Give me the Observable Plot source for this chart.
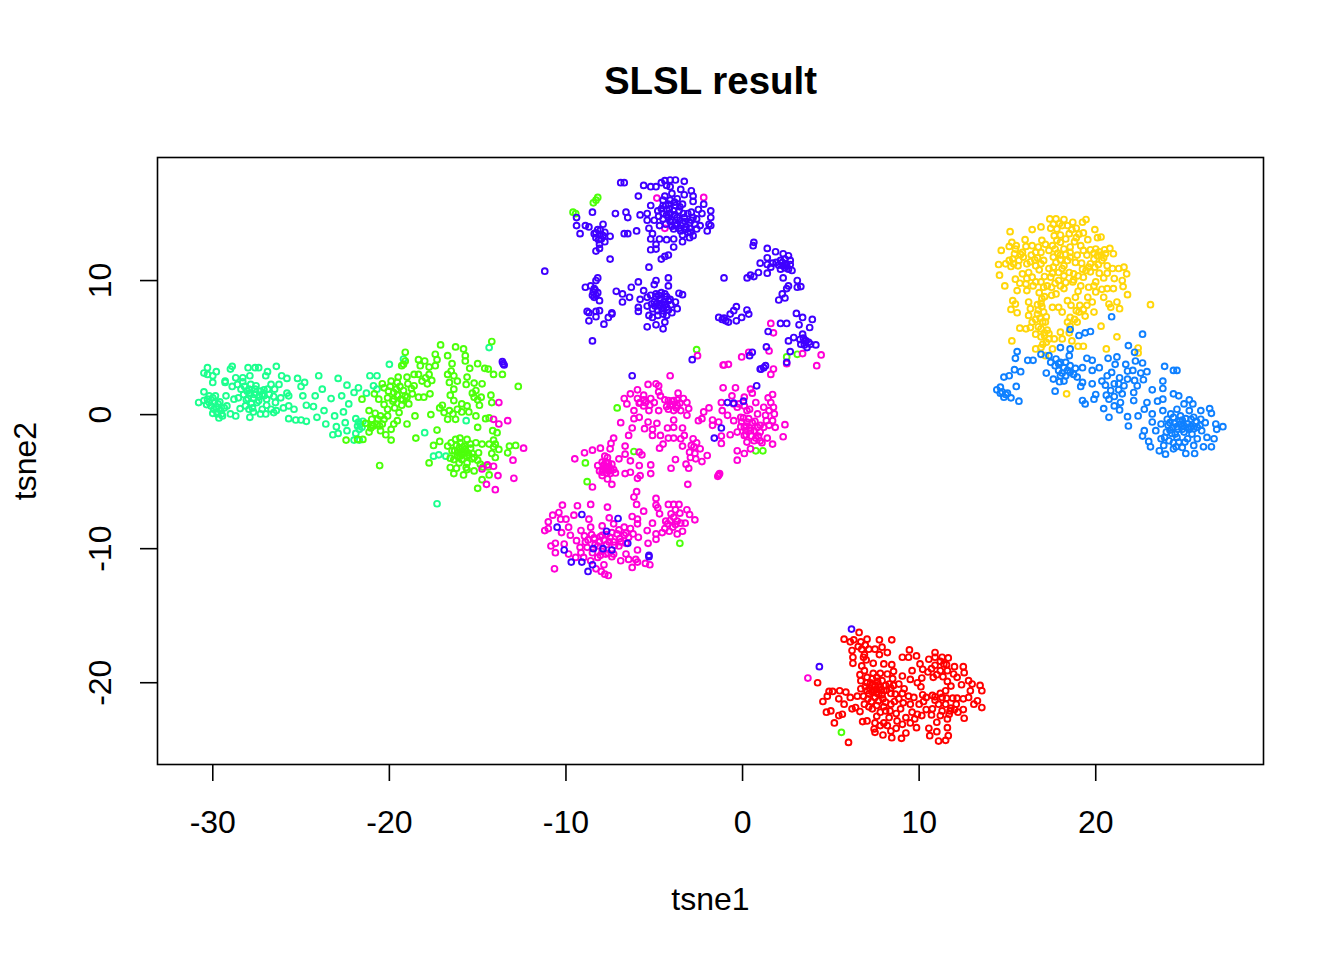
<!DOCTYPE html>
<html><head><meta charset="utf-8">
<script src="https://cdn.jsdelivr.net/npm/d3@7"></script>
<script src="https://cdn.jsdelivr.net/npm/@observablehq/plot@0.6"></script>
<style>html,body{margin:0;background:#fff}svg{display:block}</style></head><body>
<div id="chart"></div>
<script>
const title = "SLSL result";
const xTicks = [-30,-20,-10,0,10,20];
const yTicks = [-20,-10,0,10];
const clusterNames = ["c1","c2","c3","c4","c5","c6","c7"];
const clusterColors = ["#FF0000","#FFD60A","#4CFF0A","#1CFF8E","#0F80FF","#3F00FF","#FF00D6"];
// x,y pairs
const red = [6.6,-16.25,5.75,-16.75,6.1,-16.95,6.3,-16.8,6.7,-16.95,7.05,-16.75,7.75,-16.8,8.45,-16.8,4.25,-20,6.2,-17.6,6.75,-17.5,7.15,-17.5,7.5,-17.5,7.9,-17.35,8.2,-17.75,7.75,-17.9,6.25,-18.1,6.25,-18.55,6.85,-18.1,6.75,-18.75,7.4,-18.55,8,-18.6,8.45,-18.65,8.55,-19.15,6.65,-19.4,6.9,-19.1,6.7,-19.85,6.7,-20.45,9.05,-18.1,9.4,-18.1,9.45,-17.55,9.85,-18,10.05,-18.6,9.6,-19.1,9.05,-19.5,9.5,-19.75,10.15,-19.65,10.55,-18.25,10.9,-17.75,10.9,-18.1,11.3,-18.1,11.65,-18.15,10.9,-18.7,11.2,-19.1,11.6,-19.1,12,-18.8,12.5,-18.8,12.55,-19.25,12.15,-19.6,10.8,-19.6,11.6,-19.9,11.8,-20.25,12.4,-20.15,12.8,-19.85,13,-20.1,12.9,-20.6,13.45,-20.2,13.55,-20.6,11.5,-20.6,11.9,-21.15,12.15,-21.15,12.5,-21.2,12.8,-21.1,13.3,-21.35,13.55,-21.85,13.1,-21.6,12.5,-22,12.55,-22.65,12,-22,11.7,-22.35,11.6,-22.7,11.6,-23.35,11.65,-23.95,11.5,-24.3,11.1,-24.35,10.6,-23.95,11,-23.65,10.55,-23.4,11,-22.95,11.2,-22.45,10.75,-21.95,11.1,-21.6,10.9,-21.05,10.4,-21.1,10,-21.6,9.9,-22.35,10.15,-22.45,9.85,-23.35,9.25,-23.75,9,-24.15,8.45,-24.1,7.95,-23.9,7.5,-23.7,7.45,-23.45,6.8,-22.9,7.05,-22.85,7.5,-23,8.2,-23.2,8.3,-22.6,9.05,-23.1,9.25,-22.6,9.5,-21.6,8.95,-21.95,8.4,-21.6,7.8,-22.2,7.15,-21.8,6.65,-22.15,6.4,-21.85,6.2,-21.95,5.65,-22.35,5.45,-22.45,5,-22.1,4.75,-22.2,5.2,-23,6,-24.45,4.55,-21.4,4.8,-21,4.9,-20.65,5.1,-20.65,5.5,-20.6,5.85,-20.7,5.45,-21.2,5.75,-21.6,6.1,-21.1,6.5,-21,7.05,-20,7.35,-19.7,7.6,-19.6,7.9,-19.85,8.2,-19.35,8.3,-20.1,8,-20.6,7.7,-20.85,7.35,-20.7,7.05,-20.6,6.85,-21,7.5,-20.2,7.8,-20.35,7.35,-20.2,8.1,-21.45,7.7,-21.35,8.65,-20.85,8.85,-20.1,9.15,-20.45,9.4,-21,8.85,-21.2,7.35,-21.95,8.1,-22.1,7.6,-20.5,7.9,-20.9,8.1,-20.2,7.2,-20.4,7.5,-21.1,7.95,-21.2,7.1,-21.2,8.4,-20.8,8.6,-21.4,9.1,-21.5,6.9,-17.9,7,-18.3,6.55,-17.3,6.95,-17.2,10.5,-19.2,10.2,-19,11,-19.4,11.4,-18.6,11.3,-21.1,11.5,-21.6,11.8,-21.9,10.7,-22.4,10.4,-22,10.9,-21.3,12.2,-22.2,6.9,-21.6,7.6,-22.5,8,-23,8.7,-23.4,8.4,-23.6,7.8,-23.2,9.6,-22.2,9.7,-21.1,10.2,-20.9,10.1,-20.3,9.9,-20,7.25,-20,7.45,-20.55,7.7,-20.15,7.65,-19.9,7.15,-20.85,7.55,-20.75,7.85,-20.55,8.15,-20.55,8.4,-20.4,7.05,-19.6,7.4,-19.3,7.8,-19.3,8.5,-19.7,8.55,-20.2,6.95,-20.3,7.3,-21.4,7.6,-21.7,8,-21.8,8.35,-22.1,8.7,-22.3,9.05,-20.8,11.2,-18.4,11.55,-18.65,10.7,-18.95,11.35,-19.55,11.95,-19.35,10.75,-20.95,11.2,-20.8,11.55,-21.15,11.3,-22.1,11.75,-22.1,12.1,-21.6,10.25,-21.4,9.75,-22.7,9.5,-23,8.75,-22.85];
const yellow = [15.15,13.65,16.4,13.8,16.9,14,17.4,14.6,17.75,14.6,18.2,14.55,18.7,14.35,19.25,14.35,19.45,14.55,19.95,13.8,20.1,13.2,20.3,13.25,19.55,13.05,14.65,12.25,15.25,12.85,16,13.05,16.95,13,15.45,12.35,14.5,11.2,14.55,10.4,14.85,9.6,14.9,11.25,15.3,11.6,15.85,12.1,16.4,12.6,16.9,12.1,16.9,11.25,16.6,11.1,17.05,11.5,17.65,13.35,17.8,13.85,18.5,13.5,18,12.85,18.55,12.5,19.15,12.6,18,11.9,18.55,11.75,18.2,11.1,17.75,11.35,20,12.35,20.8,12.4,21,12,19.9,11.6,20.35,11.5,20.95,10.9,21.3,10.9,21.6,11,21.75,10.5,21.5,10,21.55,9.55,21.8,8.95,21.05,10.15,20.45,10.2,19.7,10.65,19.25,10.85,18.75,10.5,19.3,10.25,20,9.9,19.15,9.6,20.65,9.4,21,9.4,20,9.15,20.45,8.75,20.75,8.25,21.2,8.4,21.35,7.9,20.85,8,19.9,7.65,19.4,7.35,19.8,8.4,19.5,8.15,18.85,8.75,18.2,9.4,17.75,9,18.4,8.5,17.9,8,17.55,8,17.05,7.65,16.95,8.65,17.05,9.5,16.6,9.9,16.05,9.75,16.1,9.25,15.55,9.25,15.45,10.1,15.85,10.5,16.4,10.25,17.45,10.25,17.35,10.9,15.3,8.5,15.45,8.25,15.2,7.85,15.55,7.6,16.2,8.4,16.3,7.9,16.2,7.4,16.4,6.9,16.7,7.5,15.7,6.45,16.05,6.4,16.3,6.5,17.15,6.9,16.6,6,17.25,6.3,16.9,5.8,17.35,5.65,15.25,5.5,16.6,4.9,16.9,5,17.15,4.4,17.55,4.9,17.65,5.65,18,6.15,18.1,5.65,18.65,5.5,18.55,7.25,19.05,7.65,18.95,6.9,18.4,6.9,18.1,7.65,20.3,6.6,21.2,5.8,20.6,4.9,19,5.1,19.3,5.1,18.35,1.55,22.4,4.97,22.4,4.6,23.1,8.2,15.4,12,15.65,11.5,16.1,11.25,17.35,12.25,17.55,12.6,18.2,12.35,18.95,11.9,19.5,11.9,19.7,11.25,20.1,11.85,20.55,12,18.85,11.35,18.5,10.6,17.9,10,17.25,9.6,16.2,10.6,15.5,12.6,15.75,11.95,16.35,11.9,16.7,11.7,16.8,10.8,17.1,10.3,17.6,11,17.9,10.6,18.2,10.35,18.7,9.9,19,9.2,19.6,9.5,18,13.4,18.3,13.1,18.9,13.2,18.9,13.9,18.1,14.1,17.8,13,17.6,14.2,19.3,13.55,19.9,12.05,20.3,11.9,20.5,12.3,20.65,11.1,19.6,11,19.2,11.3,18,9.6,17.5,8.9,16.7,8.2,16.9,8.3,16.85,7.2,17,6.9,17.2,5.4,17,5.25,17.1,6.1,18.5,6.1,18.8,7.1,15.2,11.05,15.1,11.5,16.3,11.4,16.6,12.1,15.1,12.55,15.35,11.25,15.6,11.1,15.9,11.75,16.05,12.55,16.55,11.55,16.75,12.5,17.15,12.7,17.7,12.35,17.85,12.05,18.3,11.95,18.55,12.1,18.8,12.9,19.3,12.25,19.7,12.3,20.2,12.15,20.45,11.7,20.15,11.2,19.95,11,19.45,10.75,19,10.35,18.75,10.05,18.3,9.85,17.7,9.8,17.5,9.5,16.9,9.9,16.45,9.6,16.1,10.15,15.7,9.8,17.55,10.55,18.1,10.9,18.4,11.5,18,11.55,17.6,11.75,17.45,13.9,17.95,14.25,18.4,14.1,19.05,13.45,18.65,13.8,16.8,9.1,17.1,8.8,16.95,8.05,16.75,7.8,16.6,7.1,16.75,6.55,16.9,6.4,17.1,5.9,17.35,6.05,17.2,7.3,19.55,8.75,19.9,9.6,20.2,10.55,20.65,10.55,20.35,9.35,19.1,8.15,19.3,7.85,18.6,8.15,18.9,7.75,18.55,6.6];
const green = [-14.2,5.45,-17.1,5.2,-16.25,5.05,-15.8,4.9,-15.7,4.4,-19.1,4.65,-19.2,3.75,-19.1,4,-19.3,3.65,-18.35,4.1,-18,4,-17.4,4.5,-17.3,4.1,-16.7,4.4,-16.45,3.8,-15.7,4,-15,3.8,-14.6,3.45,-14.4,3.4,-14.1,3,-13.6,3,-12.7,2.1,-15.45,3.45,-15.6,2.8,-15.65,2.25,-15.2,2.35,-14.75,2.3,-15.1,1.8,-14.25,1.45,-14.8,1.3,-15.2,1.3,-14.2,.9,-14.9,.7,-15.6,.65,-16.35,1.05,-16.55,1.45,-16.15,.4,-16.7,3,-16.5,3.25,-16.6,2.4,-16.15,2.5,-17.15,.5,-16.9,.15,-16.7,-.35,-16.25,-.35,-17.65,0,-17.3,-1.15,-18.5,-1.75,-20.55,-3.8,-17.75,-3.6,-17.5,-2.3,-17.15,-2,-16.55,-3.95,-16.35,-4.4,-15.8,-4.5,-15,-5.5,-14.75,-4.85,-14.35,-4.5,-14,-3.2,-13.2,-2.35,-12.85,-2.3,-13.3,-2.85,-15,-.95,-14.15,-1.2,-14.35,-.25,-14.55,-.3,-13.9,-1.35,-14,-2.2,-13.8,-2.6,-16.25,-1.85,-16,-1.75,-15.6,-1.85,-15.1,-2.1,-14.75,-2.2,-16.7,-2.35,-16.45,-2.7,-16.15,-3.1,-15.9,-3.35,-15.6,-3.6,-15.2,-3.2,-14.95,-2.85,-15.4,-2.5,-15.75,-2.35,-16.05,-2.5,-15.75,-2.85,-16.2,-2.3,-15.5,-3,-16.35,-3.35,-14.85,-3.7,-19.9,2.5,-19.55,2.4,-19,2.8,-20.3,2,-19.75,1.65,-19.2,1.8,-18.6,3,-18.35,3,-17.75,3,-17.85,2.3,-17.7,1.55,-18.35,1.3,-18.7,1.55,-18.05,1.3,-19.35,1.15,-19.75,1.15,-20.1,1.25,-20.6,1.15,-21.55,1.15,-20.1,.4,-19.45,.15,-18.9,.8,-18.55,-.1,-19,-.7,-19.75,-.7,-19.55,-.45,-21.15,.3,-21,-.35,-20.7,-.7,-20.3,-.35,-20.5,-1.2,-19.9,-1.1,-20.2,-1.5,-19.9,-1.9,-21.15,-1.3,-21.5,-1.85,-22.45,-1.9,-21.8,-1.85,-20.9,-.85,-20.1,-.1,-19.8,1,-20.4,2.3,-18.6,2.15,-18.15,2.5,-18.25,3.65,-17.4,3.65,-17.75,3.55,-8.2,16.2,-8.3,16,-8.45,15.8,-9.6,15.1,-9.45,15,-2.6,4.85,3.1,4.5,2.5,4.3,-7.1,.5,-8.9,-3.6,-8.8,-5,-3.55,-9.6,.75,-2.7,1.15,-2.7,-6.15,-2.75,5.6,-23.7,-19.4,2.1,-19.1,1.4,-19.6,1.9,-19.3,.7,-19.7,.5,-20.5,-.1,-20.8,.1,-20.4,-.7,-15.9,-3,-15.7,-2.6,-16,-2.1,-15.4,-2.2,-15.9,-2.8,-15.6,-3.1,-16.3,-2.7,-16.5,-2.1,-15.3,-2.9,-15,-3.4,-14.7,-3.9,-14.4,-3.9,-14.1,-2.4,-14.2,-2.9,-16.2,-4,-15.6,-4.1,-15.2,-4.2,-17,.7,-16.6,.3,-15.9,.2,-15.5,.2,-15.3,1.6,-15,1.1,-19.95,2.1,-19.5,2.8,-19.25,1.1,-19,1.3,-19.55,1.45,-18.95,2.3,-18.75,1.95,-20.05,1.75,-20.65,-.35,-20.55,-.85,-21,-.8,-21.35,-.65,-21.05,-1,-20.3,.75,-20.85,1.55,-16,-3.1,-16.1,-2.85,-15.85,-2.45,-15.55,-2.85,-15.3,-3.3,-16.55,-3.25,-16.05,-3.6,-15.65,-3.95,-14.1,-1.9,-14.35,-2.2,-17.95,2.75,-17.6,2.55,-16.35,2.9,-16.35,1.9,-15.9,.8,-16.4,.05,-15.1,-.1];
const spring = [-30.8,.9,-30.5,1.7,-30.5,3.1,-30.3,3.5,-30,2.4,-29.8,3.2,-30,2.9,-29.3,2.5,-28.9,3.6,-29,3.4,-28,3.5,-27.6,3.5,-27.4,3.5,-26.4,3.6,-26.9,3.2,-27,2.9,-26.1,2.9,-25.8,2.7,-25.2,2.7,-24.8,2.4,-25,2.1,-24,2.9,-22.9,2.7,-22.4,2.2,-23.8,1.9,-24.2,1.4,-24.9,1.4,-25.8,1.6,-25.7,1.4,-22.7,1.4,-23.3,1.2,-22.3,.8,-22.6,.2,-23.1,-.1,-23.7,.3,-24.3,.6,-24.7,.7,-25.4,.4,-25.7,-.3,-25.3,-.4,-25,-.4,-24.7,-.5,-24.1,-.2,-23.6,-.7,-23,-.9,-22.5,-.6,-22.4,-1.2,-22.9,-1.4,-23.2,-1.5,-22,-1.9,-21.7,-1.9,-30.5,1.05,-30.3,1.15,-30.2,.9,-30.1,.65,-29.95,.4,-29.75,.05,-29.65,-.25,-29.55,.3,-30,1.25,-29.85,1.4,-29.35,.5,-29.2,.65,-29,.05,-28.7,-.1,-29.25,1.4,-28.8,1.15,-28.45,.45,-27.9,-.2,-27.95,.4,-27.75,.5,-28.15,.65,-28.25,1.5,-28.4,1.9,-28.6,2.25,-28.3,2.75,-27.85,2.25,-27.55,2.15,-27.3,1.75,-27.1,1.4,-27.4,1.05,-26.8,1.5,-26.5,1.9,-26.25,2.25,-26.7,2.25,-26.15,1.25,-26.45,.9,-26.7,.4,-27,.05,-27.3,.05,-26.4,.3,-26,.5,-25.7,.65,-28.7,2.75,-29.3,2.4,-28.05,1.75,-27.65,1.5,-21.65,-.7,-21.8,-.85,-21.5,-.5,-22,1.65,-21.75,2,-21.1,2.9,-20.7,2.9,-20.9,2.15,-20.7,1.9,-20,3.75,-19.2,4.15,-14.35,5,-15.65,-.45,-18,-1.35,-17.3,-6.65,-17.5,-3.1,-16.8,-3.1,-17.2,-3,-21.3,1.6,-21.9,-.3,-21.7,-1.1,-21.9,-1.4,-30.2,1.4,-29.9,.9,-29.7,.8,-29.5,.05,-28,1.2,-28.2,2.1,-27.9,1.6,-27.6,1.9,-27.5,.9,-27.2,1.5,-26.9,1.9,-27.7,.2,-27.2,.4,-30.3,3,-28.9,2.1,-27.9,2.9,-30.35,.75,-29.8,.55,-29.6,.95,-29.75,.2,-29.45,-.1,-30,.1,-28.55,1.25,-28.1,1.1,-27.8,.85,-27.7,1.2,-27.35,1.35,-27.55,1.65,-27.95,1.9,-28.3,2.45,-27.1,1.85,-26.95,1.15,-26.55,1.35,-26.95,.7,-26.55,.15,-21.75,-.55,-21.55,-.95];
const blue = [14.4,1.85,14.6,2.05,14.7,1.7,14.9,1.5,15.2,1.25,15.65,1,14.8,2.8,15.1,2.9,15.4,3.35,15.75,3.2,15.5,2.1,15.45,4.2,15.55,4.7,16.15,4.05,16.45,4.05,17.2,3.1,17.6,2.65,17.7,1.75,17.45,3.9,17.75,4.15,18,5,18.55,6.35,19.05,5.9,19.4,6.1,19.7,6.2,22.65,6,18.55,4.9,18.5,4.4,18,3.9,18.2,3.5,18.55,3.65,18.3,2.9,18.2,2.5,18.95,2.8,19.25,3.5,19.5,4.2,19.8,4.05,20.2,3.5,20.7,4.2,21.2,4.3,21.1,3.75,21.7,3.75,21.85,5.15,22.2,4.65,22.25,4,22.65,3.85,22.1,3.3,22.55,3.1,22.9,3.2,22.7,2.6,22.35,2.15,23.9,3.6,24.4,3.3,24.6,3.3,23.8,2.5,23.8,1.95,23.2,1.85,22.9,.9,23.5,1,23.8,1.15,24.4,1.55,24.7,1.4,19.8,3.3,19.8,2.3,19.25,2.4,19.15,2.1,19.25,1.05,19.4,.8,19.9,1.15,20,1.5,20.45,.45,20.75,-.2,20.75,1.15,21.05,.65,21.4,.9,21.35,.35,21.8,-.15,21.85,-.85,22.4,-.1,22.75,.4,22.15,1.05,22.15,1.65,21.5,1.55,21.6,2.15,21.8,2.65,21.05,2.3,20.85,1.8,20.35,2.5,20.65,2.9,20.9,3.15,21.3,2.3,22.75,-1.2,22.65,-1.6,23.1,-2.4,23,-2,23.6,-2.7,23.95,-2.95,24.4,-2.55,25.1,-2.9,25.6,-2.9,26.1,-2.4,26.55,-2.4,26.7,-1.8,27.2,-.9,26.85,-1.1,26.8,-.7,26.45,.45,26.55,.1,25.95,.3,25.5,.8,25.3,1.1,25,.8,24.6,.4,23.8,.3,23.2,.05,23.2,-.55,23.4,-1.2,23.7,-.7,24.05,-.35,24.4,-.2,24.8,-.1,25.3,.3,25.55,-.2,25.95,-.35,26.2,-.6,25.75,-.95,25.2,-.7,24.8,-.7,24.35,-.95,24,-1.3,24.5,-1.45,25,-1.3,25.45,-1.45,26,-1.2,26.3,-1.7,25.75,-1.8,25.2,-1.8,24.7,-2.05,24.15,-1.95,23.7,-1.8,23.85,-2.3,24.9,-2.45,25.55,-2.3,20.9,7.3,16.9,4.5,17.35,4.4,17.7,3.65,17.9,3.3,18,2.9,18.4,3.3,18.75,3,24.2,-.6,24.6,-.9,24.9,-1.1,25.1,-.3,24.6,-1.7,24.3,-1.4,24.1,-.8,25.4,-.9,25.7,-.5,24.9,-.4,25.3,-1.1,23.9,-1.7,24.4,-2.1,15,1.6,14.8,1.3,14.6,1.6,17.9,3.8,18.1,3.1,18.3,3.9,17.95,2.45,18.55,3.15,18.85,3.45,20.55,2.2,20.6,1.45,21.05,1.35,21.3,1.85,21.8,3.25,21.35,2.75,22.2,2.55,24.65,-1.1,25,-.85,25.25,-.95,24.45,-.65,24.75,-.5,25.55,-1.05,25.9,-.8,24.2,-1.15,24.55,-2.4,25.05,-2.05,25.4,-.35,24.25,.05];
const indigo = [-11.2,10.7,-6.9,17.3,-6.7,17.3,-5.6,17.1,-5.2,17,-4.9,17,-5.9,16.3,-8.5,15.1,-7.2,15,-6.6,15.1,-6.5,14.7,-5.8,14.9,-6.7,13.5,-6.5,13.5,-6,13.7,-9.4,14.7,-9.4,14.1,-9.2,13.5,-8.9,14.1,-8.7,14,-8.4,13.5,-8.1,13.4,-7.9,14.2,-7.5,13.3,-7.8,12.9,-8.1,12.7,-8.3,12.2,-8.1,12.4,-7.5,11.6,-8.2,13.8,-8,13.1,-8.3,13.2,-7.8,13.6,-4.6,17.3,-4.4,17.45,-4.1,17.5,-3.8,17.5,-3.3,17.4,-4.3,17.1,-4.1,17,-3.5,16.8,-2.9,16.7,-3.3,16.4,-2.8,16.3,-4,16.5,-4.4,16.3,-2.8,15.9,-5.2,15.6,-4.5,16,-3.7,16.1,-4.2,15.7,-3.8,15.6,-3.4,15.7,-2.9,15.1,-2.5,15.3,-2.2,15.7,-1.8,15.2,-2.3,15,-1.8,14.7,-1.9,14.2,-1.8,14.1,-2,13.7,-2.4,14.1,-2.7,14.2,-2.9,14.5,-3.3,14.7,-3.7,14.7,-4.1,15,-4.5,15,-4.8,15.2,-5.4,15,-5.4,14.5,-5,14.5,-5.3,13.9,-5.1,13.5,-5.2,13.1,-4.7,13.1,-4.3,13.05,-3.9,13.1,-3.4,12.9,-3,13.2,-2.8,13.35,-2.6,13.85,-3.2,14,-3.5,13.7,-3.1,13.6,-3.9,13.85,-4.9,12.7,-4.9,12.35,-5.2,12.3,-3.9,12.5,-4.2,11.9,-4.4,11.8,-4.6,11.6,-5.3,11,-3.7,14.2,-3.4,14.3,-3,13.9,-4.3,15.3,-3.9,15.2,-4.5,14.6,-4.1,14.4,-3.6,15.2,-3.1,15,-2.8,14.7,-4.2,14.7,-3.8,14.1,-3.4,13.4,-4.5,15.6,-4.1,16,-8.9,9.5,-8.6,9.6,-8.4,9.4,-8.5,8.9,-8.2,9.1,-8.1,8.5,-8.4,8.75,-8.2,10.2,-8.3,10,-8.8,7.7,-8.7,7.6,-8.3,7.7,-8.1,7.75,-8.3,7.3,-8.7,7,-7.85,6.75,-7.6,7.25,-7.4,7.6,-7.4,7.5,-8.5,5.5,-7.15,9.2,-6.8,9,-6.4,8.75,-6.8,8.4,-6.3,9.5,-5.9,9.9,-5.6,9.25,-5.8,8.6,-5.9,8,-5.9,7.7,-4.9,10,-5,9.7,-4.2,10.2,-4.2,9.6,-3.6,9.05,-3.4,8.95,-5.4,6.55,-4.9,6.7,-4.5,6.4,-4.4,6.9,-5.4,8.75,-5.2,8.9,-4.9,9,-4.6,9.1,-4.4,9,-4.1,8.6,-3.8,8.4,-3.7,7.9,-4,7.6,-4.3,7.4,-4.5,7.5,-4.8,7.75,-5.1,7.9,-5.4,8.1,-5.3,7.4,-5.1,7.25,-4.7,8.6,-4.45,8.4,-5,8.4,-4.3,8,-4.7,8.1,-4.5,8,-4.9,8.8,-4.6,8.3,-4.2,8.5,-4.8,7.4,-4.2,7.8,.64,12.85,.6,12.6,1.4,12.4,1.87,12.15,1.4,11.7,2.3,12,2.6,11.85,1,11.3,1.4,11.2,1.9,11.35,2.15,11.5,2.4,11.6,2.7,11.5,2.3,11.1,2.6,10.85,2.8,10.75,2.15,10.85,1.6,11,1.4,10.55,.45,10.4,.26,10.2,.64,10.3,.9,10.6,2.3,10.2,3.1,10,2.6,9.6,3.1,9.5,3.3,9.55,2.5,9.4,2.25,9,2.4,8.7,2.05,8.55,-1.05,10.2,-1.35,7.25,-1.15,7.1,-.95,7,-.8,6.9,-.7,7.5,-.5,7.75,-.35,8.05,-.35,7,-.05,7.25,.25,7.8,.35,7.5,-1.05,7.2,3.05,7.55,3.4,7.25,3.95,7.1,3.2,6.7,3.8,6.5,2.15,6.8,2.5,6.8,1.45,6.2,1.35,5.05,2.6,5.5,2.9,5.75,3.4,6,3.55,5.5,3.85,5.25,4.15,5.2,3.3,5.25,3.65,5,2.7,4.7,2.5,3.9,.55,4.65,.4,4.4,-2.85,4.1,1.2,3.5,1,3.4,-6.25,2.9,-.85,.9,-.5,.85,.05,1,.8,2.15,1.05,3.4,1.3,3.65,-1.2,-1,-1.6,-1.75,-9.1,-7.45,-10.5,-8.4,-7.05,-7.75,-7.7,-8.7,-10.1,-10.1,-9.7,-11,-8.75,-11.7,-8.5,-11.2,-8.45,-10,-7.9,-10,-7.4,-10.1,-6.5,-9.6,-5.3,-10.5,-5.3,-10.6,-9.1,-11,6.17,-16,4.35,-18.8,-13.6,3.95,-13.5,3.7,-13.55,3.8,-4.3,14.9,-4.05,14.55,-3.85,14.9,-3.55,14.5,-3.25,14.4,-3,14.3,-3.6,13.9,-3.25,13.8,-2.95,13.6,-4.35,15.6,-4.15,15.35,-3.85,15.85,-4.6,15.35,-4.75,14.8,-2.6,14.6,-3.55,15.5,-3.35,15,-4,14.05,-4.35,14.2,-4.7,14.1,-8.3,13.55,-8.05,13.75,-7.9,13.35,-8.15,13.05,-8.45,9.15,-8.3,8.9,-8.35,9.3,-4.85,8.3,-4.4,8.2,-4.55,7.75,-4.95,8.1,-5.15,8.25,-4.05,8.2,-4.3,8.8,-4.75,8.9,2.45,11.25,2.25,11.35,2.5,11.1,2.7,11.2,2.05,11.15,1.7,11.3,2.4,10.95,3.6,5.5,3.45,5.7,3.75,5.4,3.5,5.2,3.25,5.6];
const magenta = [-4.1,2.9,-5.35,2.25,-4.9,2.3,-4.75,2.15,-5.95,1.85,-6.35,1.55,-6.7,1.2,-6.55,.8,-5.6,1.45,-4.75,1.7,-4.65,1.4,-3.65,1.6,-3.35,1.2,-3.15,.9,-3.9,1.05,-4.1,.7,-3.7,.7,-3.5,.3,-3.9,.3,-4.4,1.1,-5,.9,-4.75,.3,-5.3,.3,-5.6,.65,-5.95,1.2,-6.15,.3,-5.85,-.2,-6.15,-.3,-6.9,-.6,-6.25,-1,-6.45,-1.55,-5.55,-1.05,-5.35,-.55,-5.1,-1.1,-4.85,-.65,-5.1,-1.55,-4.65,-1.55,-4.5,-2.2,-4.7,-2.5,-4.25,-1,-3.9,-.4,-3.9,-.95,-4.2,-1.75,-3.9,-1.75,-3.4,-1,-3.3,-1.55,-3.5,-1.8,-3.4,-2.35,-3.05,.45,-3.15,-.05,-2.8,-1.8,-2.75,-2.4,-3,-2.8,-2.4,-2.55,-2,-3.05,-2.3,-3.5,-2.65,-3.3,-2.95,-3.2,-3.8,-3.35,-4.05,-4,-3.2,-3.7,-3.05,-4,-3.1,-5.2,-1.35,-4.5,-1.4,-4.6,-1.3,-4.4,-2.5,-.45,-2.2,.2,-1.9,.5,-2.3,-.3,-1.7,-.4,-1.7,-.8,-1.35,-.55,-1.1,2,-.4,2,.45,1.9,.55,1.6,1.7,1.5,1.45,1.25,-.6,1.4,.1,1.3,-1.2,.9,-1.15,.3,.75,.9,1.2,.55,1.5,.3,1.8,.05,.85,.05,.25,.3,-.3,.55,-.85,-.05,-.5,-.45,-.1,-.2,.25,-.55,1,-.8,1.85,-.95,2.4,-.75,2.3,-1.65,1.7,-2.2,1.4,-1.75,1,-1.95,.65,-1.95,.25,-2.05,.1,-1.55,-.3,-1.3,-.7,-1.5,-1.2,-1.6,-1.2,-2.15,-.3,-2.7,.1,-2.9,-.3,-3.4,.45,-2.55,.85,-.95,.45,-1.2,.1,-.95,1.7,-.45,1.3,-.05,-.5,.8,.1,.65,-1.05,3.7,-.8,3.75,1.6,3,1.75,3.4,4.2,3.65,2.5,3.8,1.6,6.8,1.75,6.1,-4.85,16.15,-2.2,16.2,-4.4,13.9,-2.55,4.4,-1.1,3.7,-.05,4.3,.35,4.65,1.5,4.75,4.45,4.45,3.4,4.55,-7.3,-1.75,-7.45,-2.15,-7.5,-2.55,-8.05,-2.5,-8.5,-2.65,-8.95,-2.85,-9.5,-3.3,-6.65,-2.35,-6.65,-2.95,-5.85,-2.8,-5.7,-3,-6.35,-3.45,-5.85,-3.8,-5.2,-3.75,-5.2,-4.4,-5.8,-4.55,-5.95,-4.75,-6.35,-4.3,-6.65,-4.4,-7.2,-4.35,-7.4,-5.2,-8.5,-5.4,-8.1,-4.2,-7.95,-4.55,-7.65,-4.8,-7.5,-4.4,-7.95,-3.55,-7.65,-3.2,-7.4,-3.7,-7.75,-3.95,-7,-3.3,-7.55,-4.2,-10.2,-6.75,-9.35,-6.8,-8.6,-6.7,-7.65,-6.9,-6,-5.75,-6.15,-6.15,-6,-6.7,-5.6,-7.2,-4.9,-6.25,-4.9,-6.75,-4.8,-6.95,-4.2,-6.7,-3.9,-6.7,-3.6,-6.7,-3.15,-7.1,-3,-7.45,-2.7,-7.85,-3.25,-8.1,-3.4,-8.7,-3.7,-8.9,-3.9,-7.65,-4.25,-8.15,-4.05,-7.4,-4.55,-8.8,-4.9,-8.9,-5.4,-8.65,-5.1,-8.1,-4.9,-9.3,-5.35,-9.6,-4.7,-7.4,-10.75,-7.5,-11,-8,-11.2,-8.65,-11,-8.5,-10.4,-7.3,-10.3,-7.8,-10,-7.8,-10.25,-8.8,-9.75,-9,-9.85,-8.4,-9.55,-7.5,-9.15,-8.65,-8.7,-7.8,-8.6,-8.4,-7.95,-8.3,-7.55,-7.7,-7.3,-8.15,-6.25,-7.6,-5.95,-7.8,-6.35,-8.5,-5.95,-8.15,-5.9,-9.15,-10.85,-9.8,-10.6,-9.6,-10.6,-10.3,-10.1,-9.65,-10.65,-11.5,-9.4,-9.4,-9.85,-10.4,-9.45,-10.65,-9,-10.65,-8.9,-9.5,-8.4,-9.3,-8.2,-9.8,-7.95,-9,-7.5,-9.15,-7.1,-8.9,-6.7,-9,-6.9,-9.5,-7.4,-10.6,-7.85,-11.2,-6.9,-10.9,-6.6,-10.4,-6.45,-10.8,-5.95,-10.1,-6.05,-10.8,-5.95,-11,-6.25,-11.4,-5.5,-11.1,-5.25,-11.2,-8.3,-11.5,-8,-11.7,-7.6,-12,-7.8,-11.9,-8.6,-10.9,-8.2,-10.65,-7.75,-10.4,-9.15,-10.3,-13.8,.9,-13.3,-.45,-14.1,-.35,-13.8,-.7,-12.4,-2.5,-13,-3.4,-12.95,-4.75,-14,-5.6,-14.5,-5.2,-13.85,-4.55,-14.1,-3.85,-14.45,-3.75,-14.75,-4.05,3.7,-19.65,-5.5,.9,-5.2,1.2,-5.8,.9,-4,1,-3.7,1.1,-4.2,.4,-.2,.8,.4,.4,.7,-.5,.5,-1.6,.9,-1.6,1.1,-2.1,-.1,-.9,.2,-1.2,-7.7,-3.9,-7.9,-4.1,-7.6,-3.6,-7.3,-4.1,-8.2,-3.8,-7.8,-3.1,-2.9,-2.3,-2.7,-2.9,-2.6,-2.1,-8.4,-9.2,-8.1,-9.5,-7.7,-9.7,-7.3,-9.5,-6.6,-9.6,-7,-8.6,-6.7,-8.4,-8.8,-9.9,-8.5,-10.3,-9.2,-9.9,-7,-9.8,-4.1,-7.9,-3.8,-8.2,-3.5,-8.1,-4.4,-8.5,-8.05,-9.1,-7.85,-9.35,-7.55,-9.5,-7.25,-9.75,-7.95,-10.2,-8.35,-9.7,-8.75,-9.35,-8.55,-8.95,-8.95,-9.05,-7.7,-8.95,-7.4,-8.8,-6.95,-9.25,-6.45,-9.15,-6.2,-8.9,-6.6,-8.85,-8.05,-10.5,-7.6,-10.35,-7.3,-10.4,-3.95,-8.4,-3.7,-7.95,-4.35,-7.95,-4.15,-8.7,-3.55,-7.35,-3.8,-7.1,-7.75,-3.55,-7.55,-3.9,-7.85,-3.75,-7.45,-4.1,-7.95,-4.3,-7.7,-4.35,-7.65,-4.1,-3.95,.75,-3.75,.5,-4.2,1.05,-3.55,.85,-4.3,.6,-5.6,1.1,-5.85,.85,-5.25,.7,.35,-.3,.55,-.6,.2,-.85,.4,-1,.65,-1.2,.2,-1.5,.75,-1.75,1,-1.3,1.2,-.95,1.35,-.45,1.5,-.8,-.05,-.55,.05,-.25,1.6,.9,1.75,.55];

const toRows = (values, name) => d3.range(0, values.length, 2).map(i => ({x: values[i], y: values[i + 1], cluster: name}));
const points = [
  ...toRows(red, "c1"), ...toRows(yellow, "c2"), ...toRows(spring, "c4"), ...toRows(green, "c3"),
  ...toRows(blue, "c5"), ...toRows(magenta, "c7"), ...toRows(indigo, "c6")
];
const font = "'Liberation Sans', Helvetica, Arial, sans-serif";
const chart = Plot.plot({
  width: 1344, height: 960,
  marginTop: 157, marginLeft: 157, marginRight: 81, marginBottom: 196,
  style: {fontFamily: font, background: "#fff", color: "#000"},
  x: {domain: [-33.13, 29.5]},
  y: {domain: [-26.1, 19.18]},
  color: {domain: clusterNames, range: clusterColors},
  marks: [
    Plot.dot(points, {x: "x", y: "y", stroke: "cluster", r: 2.9, strokeWidth: 1.9}),
    Plot.frame({stroke: "#000", strokeWidth: 1.6}),
    Plot.axisX({ticks: xTicks, tickFormat: d => String(d), tickSize: 17, tickPadding: 29, fontSize: 32, strokeWidth: 1.6, label: "tsne1", labelAnchor: "center", labelArrow: "none", labelOffset: 145}),
    Plot.axisY({ticks: yTicks, tickFormat: d => String(d), tickSize: 17, tickPadding: 30, tickRotate: -90, textAnchor: "middle", fontSize: 32, strokeWidth: 1.6, label: "tsne2", labelAnchor: "center", labelArrow: "none", labelOffset: 144}),
    Plot.text([title], {frameAnchor: "top", text: d => d, dy: -91, fontSize: 38.5, fontWeight: "bold", fill: "#000"})
  ]
});
document.getElementById("chart").append(chart);
</script></body></html>
